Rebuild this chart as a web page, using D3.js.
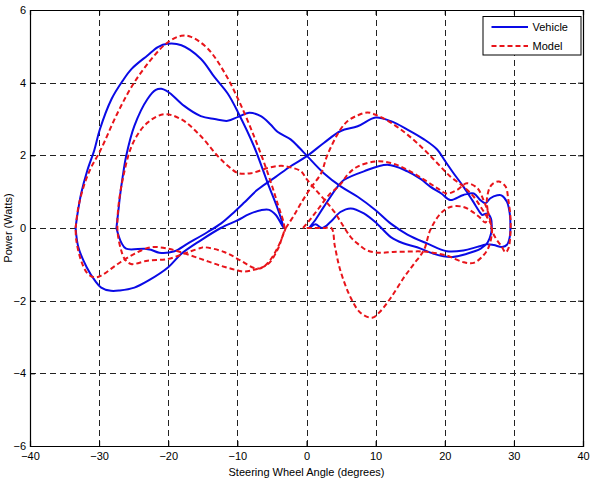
<!DOCTYPE html>
<html>
<head>
<meta charset="utf-8">
<script src="https://cdn.jsdelivr.net/npm/d3@7"></script>
<style>
  body { margin: 0; background: #fff; }
  text { font-family: "Liberation Sans", Arial, sans-serif; }
</style>
</head>
<body>
<div id="chart"></div>
<script>
// tick values
const xTicks = [-40, -30, -20, -10, 0, 10, 20, 30, 40];
const yTicks = [-6, -4, -2, 0, 2, 4, 6];

// [steering angle (deg), power (W)]
const vehicleOuter = [[-33.4,0],[-33.2,0.3],[-32.6,0.95],[-31.7,1.59],[-30.7,2.14],[-29.9,2.71],[-28.2,3.55],[-26.6,4.05],[-25.3,4.38],[-23,4.75],[-21.5,4.98],[-20.1,5.07],[-18.1,5.03],[-15.3,4.66],[-13.3,4.15],[-11.4,3.7],[-9.9,3.18],[-7.6,2.25],[-5.6,1.23],[-4.3,0.6],[-3.3,0],[-4.4,0.35],[-5.4,0.5],[-6.6,0.49],[-8.3,0.38],[-10,0.21],[-12.4,0],[-15.3,-0.34],[-18.1,-0.71],[-20,-1.08],[-22.9,-1.45],[-24.9,-1.64],[-27,-1.72],[-28.3,-1.73],[-29.7,-1.64],[-30.6,-1.45],[-31.8,-1.08],[-33,-0.53],[-33.4,0]];

const vehicleMain = [[-27.5,0],[-27.2,0.5],[-27,0.85],[-26.6,1.4],[-26.1,1.97],[-24.9,2.81],[-23,3.55],[-21.8,3.8],[-21,3.83],[-20.2,3.77],[-19.6,3.69],[-17.7,3.36],[-15.3,3.08],[-13.3,3.0],[-11.4,2.95],[-9.9,3.06],[-8.3,3.17],[-6.6,3.08],[-5.2,2.85],[-4.2,2.65],[-2.3,2.44],[-1,2.2],[0,2.0],[2.5,1.51],[5,1.14],[7.4,0.86],[10,0.49],[12.2,0.12],[14.6,-0.18],[17.5,-0.43],[20.3,-0.64],[22.7,-0.62],[24.7,-0.52],[26.1,-0.45],[27.1,-0.47],[28.3,-0.52],[29,-0.46],[29.4,-0.25],[29.5,0.05],[29.4,0.4],[29,0.72],[28.2,0.9],[27.6,0.9],[26.6,0.82],[25.9,0.68],[25.2,0.76],[24.2,0.95],[22.7,0.91],[20.8,0.77],[19.5,0.95],[17.9,1.14],[16.5,1.35],[14.6,1.56],[11.7,1.74],[8.3,1.56],[5.4,1.32],[4.5,1.14],[2.5,0.58],[1.2,0.2],[0.4,0],[1.3,0.1],[2.3,0],[3.5,0.17],[4.9,0.44],[6.4,0.54],[8.3,0.4],[10.2,0.12],[12.2,-0.25],[14,-0.42],[16,-0.53],[18.4,-0.71],[20.8,-0.8],[23.2,-0.71],[25.2,-0.57],[26.2,-0.4],[26.7,-0.15],[26.8,0.05],[26.7,0.25],[26.2,0.4],[25.4,0.36],[25.2,0.4],[24,0.76],[22.7,1.14],[21.3,1.5],[20.1,1.83],[18.9,2.16],[17,2.44],[14.6,2.71],[12.2,2.94],[10,3.04],[7.4,2.8],[4.95,2.67],[2.5,2.34],[0,1.97],[-2.3,1.7],[-4.5,1.4],[-7.1,1.05],[-9,0.7],[-10.4,0.45],[-12.4,0.12],[-14.3,-0.11],[-17.2,-0.43],[-19.1,-0.64],[-21.3,-0.68],[-22.5,-0.6],[-23.4,-0.57],[-26.1,-0.57],[-26.8,-0.4],[-27.5,0]];

const modelOuter = [[-33.4,0],[-33,0.58],[-32.1,1.22],[-31.1,1.69],[-29.9,2.1],[-27.3,3.18],[-24.9,4.01],[-22,4.75],[-20,5.12],[-18.1,5.29],[-16.7,5.26],[-14.3,4.94],[-11.9,4.29],[-9.9,3.55],[-7.6,2.53],[-5.6,1.51],[-4.2,0.68],[-3.2,0],[-3.6,-0.3],[-4.2,-0.6],[-5.6,-1.0],[-7.6,-1.15],[-9,-1.2],[-9.9,-1.17],[-12.4,-1.04],[-15.3,-0.85],[-18.1,-0.67],[-20,-0.57],[-22.5,-0.53],[-24.9,-0.71],[-27.3,-0.99],[-29.7,-1.31],[-30.6,-1.36],[-31.6,-1.27],[-32.6,-0.9],[-33.3,-0.34],[-33.4,0]];

const modelMain = [[-3,0],[-1.8,0.35],[-0.8,0.68],[0.6,1.1],[2.1,1.5],[3,2.0],[4.9,2.71],[6,2.95],[7.4,3.1],[8.8,3.18],[10.2,3.1],[12.2,2.9],[14.6,2.57],[17,2.16],[18.9,1.79],[20.8,1.42],[22.7,1.14],[24.2,0.86],[25.2,0.58],[26.1,0.31],[26.8,0.03],[26.7,-0.3],[26.3,-0.55],[25.6,-0.75],[24.2,-0.96],[22.7,-0.94],[20.3,-0.76],[17,-0.65],[14.6,-0.65],[12.5,-0.66],[10.7,-0.68],[8.8,-0.62],[7.4,-0.43],[6.4,-0.25],[5.4,0.03],[4,0.45],[2.5,0.8],[1.1,1.1],[0,1.35],[-0.8,1.56],[-2.3,1.67],[-3.7,1.71],[-5.6,1.65],[-8,1.51],[-9.9,1.51],[-11.3,1.7],[-12.8,1.97],[-15.3,2.53],[-18.1,2.99],[-20.6,3.13],[-23,2.9],[-25.1,2.34],[-26.6,1.33],[-27.3,0.4],[-27.3,-0.16],[-26.8,-0.62],[-26.3,-0.85],[-25.4,-0.99],[-23,-0.9],[-20,-0.85],[-17.2,-0.67],[-15.3,-0.55],[-14.8,-0.53],[-11.9,-0.66],[-9.5,-0.9],[-7.6,-1.1],[-6.5,-1.1],[-5.4,-0.92],[-4.2,-0.55],[-3.3,-0.15],[-3,0]];

const modelRight = [[-0.5,0],[0.6,0.25],[1.8,0.55],[3.2,0.9],[4.9,1.2],[6,1.48],[7.4,1.69],[10,1.83],[12.2,1.79],[14.6,1.6],[17,1.33],[18.9,1.1],[20.3,0.95],[21.8,1.05],[23.2,1.23],[24.7,1.1],[25.6,0.77],[26.4,0.35],[26.9,-0.1],[27.5,-0.32],[28.2,-0.5],[28.8,-0.67],[29.2,-0.57],[29.5,-0.16],[29.5,0.3],[29.2,0.77],[28.8,1.14],[27.8,1.28],[26.7,1.17],[26.1,0.8],[26.2,0.4],[25.9,0.15],[25,0.3],[24.2,0.42],[22.7,0.58],[20.8,0.58],[19.4,0.4],[17.9,-0.06],[17,-0.6],[15.5,-1.0],[14.1,-1.36],[12.2,-1.92],[10.7,-2.29],[9.5,-2.47],[7.8,-2.33],[6.4,-1.92],[4.9,-1.17],[4.1,-0.5],[3.6,0],[2.5,0],[1.2,0],[-0.5,0]];

const svgWidth = 590;
const svgHeight = 480;
const margin = { top: 10, right: 7, bottom: 34, left: 30 };
const width = svgWidth - margin.left - margin.right;
const height = svgHeight - margin.top - margin.bottom;

const svg = d3.select("#chart")
    .append("svg")
    .attr("width", svgWidth)
    .attr("height", svgHeight)
    .append("g")
    .attr("transform", `translate(${margin.left}, ${margin.top})`);

const x = d3.scaleLinear().domain([-40, 40]).range([0, width]);
const y = d3.scaleLinear().domain([-6, 6]).range([height, 0]);

// dashed grid
const grid = svg.append("g").attr("stroke", "#222").attr("stroke-width", 1)
    .attr("shape-rendering", "crispEdges")
    .attr("stroke-dasharray", "6,4");
grid.selectAll(".gx").data(xTicks.slice(1, -1)).enter().append("line")
    .attr("x1", d => Math.round(x(d)) + 0.5).attr("x2", d => Math.round(x(d)) + 0.5)
    .attr("y1", 0).attr("y2", height);
grid.selectAll(".gy").data(yTicks.slice(1, -1)).enter().append("line")
    .attr("x1", 0).attr("x2", width)
    .attr("y1", d => Math.round(y(d)) + 0.5).attr("y2", d => Math.round(y(d)) + 0.5);

// axes with inward ticks
const fmt = d3.format("d");
svg.append("g").attr("transform", `translate(0, ${height})`)
    .call(d3.axisBottom(x).tickValues(xTicks).tickFormat(fmt).tickSize(-5).tickPadding(6));
svg.append("g")
    .call(d3.axisLeft(y).tickValues(yTicks).tickFormat(fmt).tickSize(-5).tickPadding(4));
svg.append("g")
    .call(d3.axisTop(x).tickValues(xTicks).tickFormat("").tickSize(-5));
svg.append("g").attr("transform", `translate(${width}, 0)`)
    .call(d3.axisRight(y).tickValues(yTicks).tickFormat("").tickSize(-5));

svg.selectAll(".domain").attr("stroke", "#000").attr("stroke-width", 1.2);
svg.selectAll(".tick line").attr("stroke", "#000");
svg.selectAll(".tick text").attr("font-size", 11).attr("fill", "#000")
    .attr("font-family", "Liberation Sans, Arial, sans-serif");

// curves
const line = d3.line()
    .x(d => x(d[0]))
    .y(d => y(d[1]))
    .curve(d3.curveCatmullRom.alpha(0.5));

const vehicleColor = "#0a0ae6";
const modelColor = "#e8141a";

[vehicleOuter, vehicleMain].forEach(loop => {
    svg.append("path")
        .attr("d", line(loop))
        .attr("fill", "none")
        .attr("stroke", vehicleColor)
        .attr("stroke-width", 2);
});

[modelOuter, modelMain, modelRight].forEach(loop => {
    svg.append("path")
        .attr("d", line(loop))
        .attr("fill", "none")
        .attr("stroke", modelColor)
        .attr("stroke-width", 2)
        .attr("stroke-dasharray", "5,3");
});

// axis labels
svg.append("text")
    .attr("x", width / 2)
    .attr("y", height + 30)
    .attr("text-anchor", "middle")
    .attr("font-size", 11)
    .text("Steering Wheel Angle (degrees)");

svg.append("text")
    .attr("transform", `translate(${-18}, ${height / 2}) rotate(-90)`)
    .attr("text-anchor", "middle")
    .attr("font-size", 11)
    .text("Power (Watts)");

// legend
const legend = svg.append("g").attr("transform", `translate(${width - 100}, 6.5)`);
legend.append("rect")
    .attr("width", 98).attr("height", 38.5)
    .attr("fill", "#fff").attr("stroke", "#000").attr("stroke-width", 1);
const entries = [
    { name: "Vehicle", color: vehicleColor, dash: null },
    { name: "Model", color: modelColor, dash: "5,3" }
];
entries.forEach((e, i) => {
    const yy = 10.5 + i * 19;
    legend.append("line")
        .attr("x1", 8.5).attr("x2", 45).attr("y1", yy).attr("y2", yy)
        .attr("stroke", e.color).attr("stroke-width", 2)
        .attr("stroke-dasharray", e.dash);
    legend.append("text")
        .attr("x", 49.5).attr("y", yy + 4)
        .attr("font-size", 11)
        .text(e.name);
});
</script>
</body>
</html>
